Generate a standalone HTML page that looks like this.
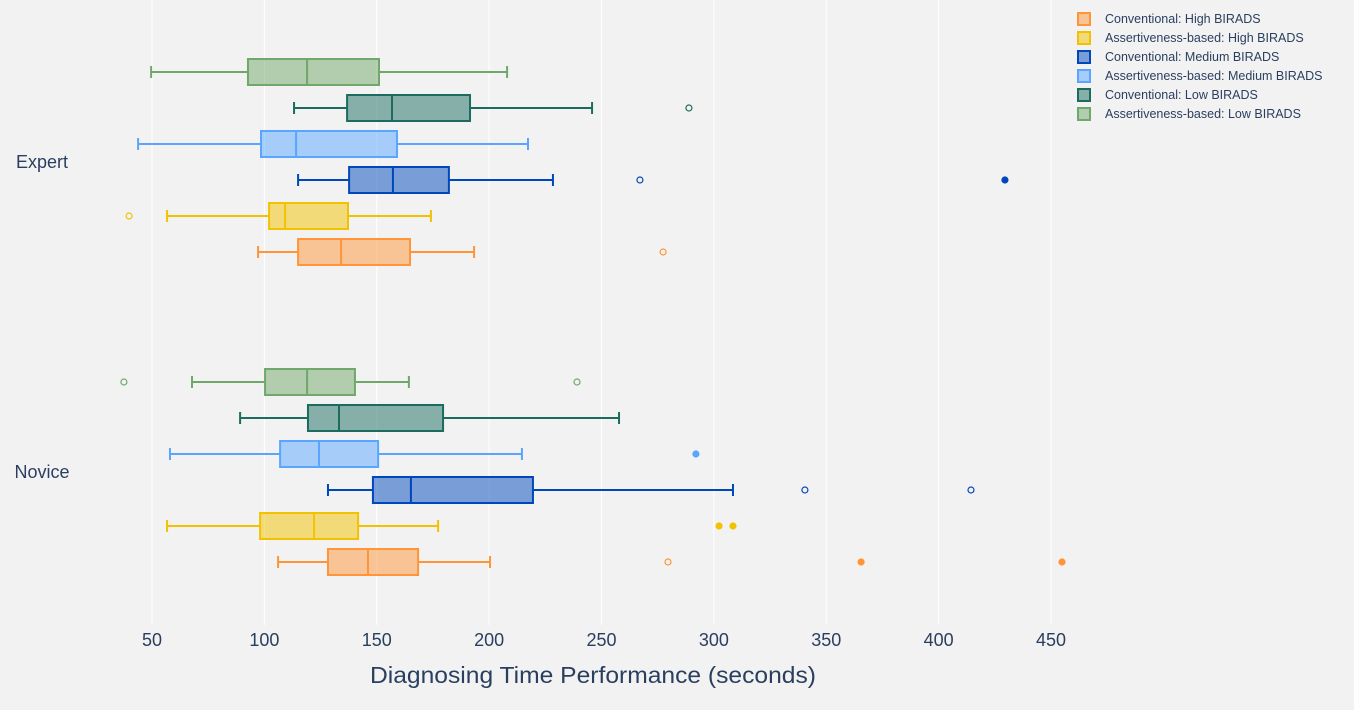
<!DOCTYPE html>
<html><head><meta charset="utf-8"><style>
body{margin:0;background:#f2f2f2;font-family:"Liberation Sans",sans-serif;}
svg{display:block}
</style></head><body>
<svg id="c" width="1354" height="710"></svg>
<script>
const categories=["Novice","Expert"];
const seriesNames=["Conventional: High BIRADS","Assertiveness-based: High BIRADS","Conventional: Medium BIRADS","Assertiveness-based: Medium BIRADS","Conventional: Low BIRADS","Assertiveness-based: Low BIRADS"];
const colors=["#ff9538","#f2c200","#0047bb","#5aa5ff","#1b6b5f","#6fa86a"];
const xTicks=[50,100,150,200,250,300,350,400,450];
// stats per series: [lo,q1,med,q3,hi] for Novice, Expert
const statsNovice=[[106.1,128.3,146.1,168.4,200.4],[56.7,98.1,122.1,141.7,177.3],[128.3,148.3,165.2,219.5,308.5],[58,107,124.3,150.6,214.6],[89.2,119.4,133.2,179.5,257.8],[67.8,100.3,119,140.3,164.3]];
const statsExpert=[[97.2,115,134.1,164.8,193.3],[56.7,102.1,109.2,137.2,174.1],[115,137.7,157.2,182.1,228.4],[43.8,98.5,114.1,159,217.3],[113.2,136.8,156.8,191.5,245.8],[49.6,92.7,119,151,208]];
// outliers: [value, filled(1)/hollow(0)]
const outNovice=[[[279.6,0],[365.5,1],[454.9,1]],[[302.3,1],[308.5,1]],[[340.5,0],[414.4,0]],[[292,1]],[],[[37.5,0],[239.1,0]]];
const outExpert=[[[277.4,0]],[[39.8,0]],[[267.1,0],[429.5,1]],[],[[288.9,0]],[]];

const NS="http://www.w3.org/2000/svg";
const svg=document.getElementById('c');
function x(v){return 152+(v-50)*2.2475;}
const catCenter={"Novice":472,"Expert":162};
function y(cat,i){return catCenter[cat]+90-i*36;}
function mk(t,a,p){const e=document.createElementNS(NS,t);for(const k in a)e.setAttribute(k,a[k]);(p||svg).appendChild(e);return e;}
xTicks.forEach(t=>{
 const g=mk('line',{x1:x(t),x2:x(t),y1:0,y2:625,stroke:'#fff','stroke-width':1});
 
 
 const l=mk('text',{x:x(t),y:646,'text-anchor':'middle','font-size':18,fill:'#2a3f5f'});l.textContent=t;
 
 
});
categories.forEach(c=>{
 const l=mk('text',{x:42,y:catCenter[c]+6,'text-anchor':'middle','font-size':18,fill:'#2a3f5f'});l.textContent=c;
 
 
});
const tt=mk('text',{x:593,y:683,'text-anchor':'middle','font-size':23,fill:'#2a3f5f',textLength:446,lengthAdjust:'spacingAndGlyphs'});tt.textContent="Diagnosing Time Performance (seconds)";


function drawBox(s,cat,i,outs){
 const col=colors[i],cy=y(cat,i),h=13;
 const g=mk('g',{});
 
 
 mk('line',{x1:x(s[0]),x2:x(s[1]),y1:cy,y2:cy,stroke:col,'stroke-width':2},g);
 mk('line',{x1:x(s[3]),x2:x(s[4]),y1:cy,y2:cy,stroke:col,'stroke-width':2},g);
 mk('line',{x1:x(s[0]),x2:x(s[0]),y1:cy-6,y2:cy+6,stroke:col,'stroke-width':2},g);
 mk('line',{x1:x(s[4]),x2:x(s[4]),y1:cy-6,y2:cy+6,stroke:col,'stroke-width':2},g);
 mk('rect',{x:x(s[1]),y:cy-h,width:x(s[3])-x(s[1]),height:2*h,fill:col,'fill-opacity':0.5,stroke:col,'stroke-width':2},g);
 mk('line',{x1:x(s[2]),x2:x(s[2]),y1:cy-h,y2:cy+h,stroke:col,'stroke-width':2},g);
 outs.forEach(o=>{
  const p=mk('circle',{cx:x(o[0]),cy:cy,r:3,fill:o[1]?col:'none',stroke:col,'stroke-width':1.2},g);
  
  
 });
}
for(let i=0;i<6;i++){drawBox(statsNovice[i],"Novice",i,outNovice[i]);drawBox(statsExpert[i],"Expert",i,outExpert[i]);}
seriesNames.forEach((n,i)=>{
 const g=mk('g',{});
 
 
 const ly=19+i*19;
 mk('rect',{x:1078,y:ly-6,width:12,height:12,fill:colors[i],'fill-opacity':0.5,stroke:colors[i],'stroke-width':2},g);
 const t=mk('text',{x:1105,y:ly+4,'font-size':12.5,fill:'#2a3f5f'},g);t.textContent=n;
});
</script>
</body></html>
